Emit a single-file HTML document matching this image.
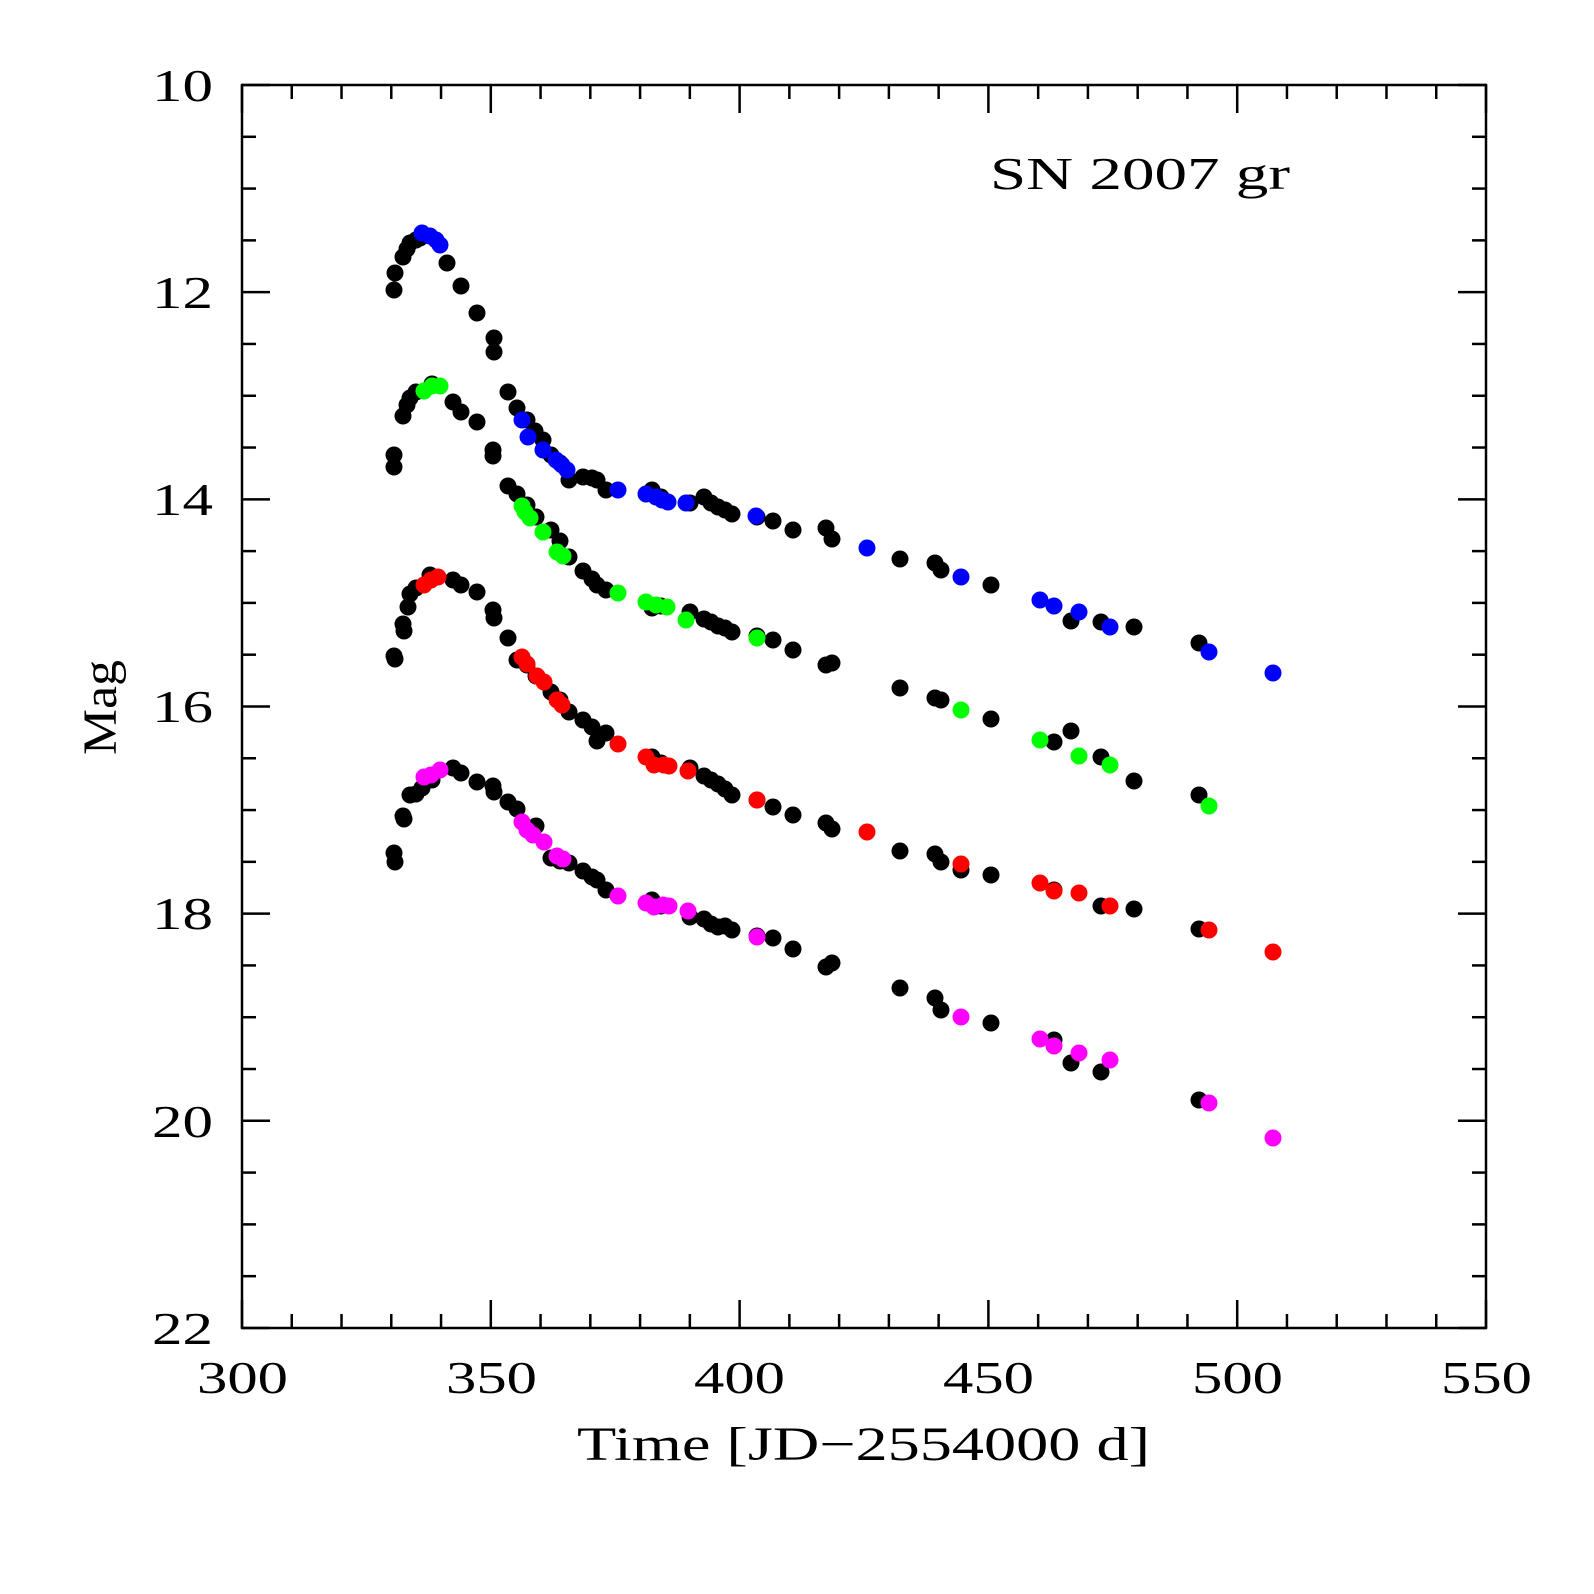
<!DOCTYPE html>
<html><head><meta charset="utf-8"><style>
html,body{margin:0;padding:0;background:#fff}
svg{display:block}
text{font-family:"Liberation Serif","DejaVu Serif",serif;fill:#000}
</style></head><body>
<svg id="s" width="1594" height="1594" viewBox="0 0 1594 1594" xmlns="http://www.w3.org/2000/svg">
<rect width="1594" height="1594" fill="#fff"/>
<g id="ticks" stroke="#000" stroke-width="2.5"></g>
<rect x="242" y="85" width="1244" height="1243" fill="none" stroke="#000" stroke-width="2.5"/>
<g font-size="46" lengthAdjust="spacingAndGlyphs">
<text x="152" y="101" textLength="61" lengthAdjust="spacingAndGlyphs">10</text>
<text x="152" y="308" textLength="61" lengthAdjust="spacingAndGlyphs">12</text>
<text x="152" y="515" textLength="61" lengthAdjust="spacingAndGlyphs">14</text>
<text x="152" y="722" textLength="61" lengthAdjust="spacingAndGlyphs">16</text>
<text x="152" y="929" textLength="61" lengthAdjust="spacingAndGlyphs">18</text>
<text x="152" y="1137" textLength="61" lengthAdjust="spacingAndGlyphs">20</text>
<text x="152" y="1344" textLength="61" lengthAdjust="spacingAndGlyphs">22</text>
</g>
<g font-size="46">
<text x="197" y="1393" textLength="91" lengthAdjust="spacingAndGlyphs">300</text>
<text x="446" y="1393" textLength="91" lengthAdjust="spacingAndGlyphs">350</text>
<text x="694" y="1393" textLength="91" lengthAdjust="spacingAndGlyphs">400</text>
<text x="943" y="1393" textLength="91" lengthAdjust="spacingAndGlyphs">450</text>
<text x="1192" y="1393" textLength="91" lengthAdjust="spacingAndGlyphs">500</text>
<text x="1441" y="1393" textLength="91" lengthAdjust="spacingAndGlyphs">550</text>
</g>
<text x="577" y="1460" font-size="48" textLength="573" lengthAdjust="spacingAndGlyphs">Time [JD−2554000 d]</text>
<text transform="translate(116,755) rotate(-90)" font-size="48" textLength="95" lengthAdjust="spacingAndGlyphs">Mag</text>
<text x="990" y="189" font-size="46" textLength="300" lengthAdjust="spacingAndGlyphs">SN 2007 gr</text>
<g id="dots"></g>
</svg>
<script>
var NS="http://www.w3.org/2000/svg";
var tg=document.getElementById("ticks");
function L(x1,y1,x2,y2){var l=document.createElementNS(NS,"line");l.setAttribute("x1",x1);l.setAttribute("y1",y1);l.setAttribute("x2",x2);l.setAttribute("y2",y2);tg.appendChild(l);}
for(var v=300;v<=550;v+=10){var x=242+(v-300)*4.976;var len=(v%50==0)?28:14;L(x,1328,x,1328-len);L(x,85,x,85+len);}
for(var m=10;m<=22;m+=0.5){var y=85+(m-10)*103.58;var len=(Math.abs(m-Math.round(m/2)*2)<1e-6)?28:14;L(242,y,242+len,y);L(1486,y,1486-len,y);}
var black=[[394,290],[395,273],[403,257],[407,249],[410,243],[416,240],[420,238],[447,263],[461,286],[477,313],[494,338],[494,352],[508,392],[517,408],[527,420],[535,431],[543,440],[551,455],[560,463],[569,480],[583,477],[592,478],[597,480],[606,490],[652,490],[661,497],[690,503],[704,497],[711,503],[718,507],[725,510],[732,514],[757,517],[773,521],[793,530],[826,528],[832,539],[900,559],[935,563],[941,570],[991,585],[1071,621],[1101,622],[1134,627],[1199,643],
[394,455],[394,467],[403,416],[407,405],[410,398],[416,392],[432,384],[453,402],[461,412],[477,422],[493,450],[493,456],[508,486],[517,494],[527,505],[536,517],[551,530],[560,541],[569,557],[583,571],[592,579],[597,585],[606,590],[652,608],[661,606],[690,612],[704,619],[711,622],[718,626],[725,628],[732,632],[757,636],[773,640],[793,650],[826,665],[832,663],[900,688],[935,698],[941,700],[991,719],[1054,742],[1071,731],[1101,757],[1134,781],[1199,795],
[394,656],[395,659],[403,624],[404,631],[408,607],[410,594],[416,588],[430,575],[453,580],[461,585],[477,592],[493,610],[494,618],[508,638],[517,660],[527,665],[536,676],[551,692],[560,700],[569,712],[583,720],[592,727],[597,741],[606,733],[652,757],[661,763],[690,768],[704,776],[711,780],[718,784],[725,789],[732,795],[757,800],[773,807],[793,815],[826,823],[832,829],[900,851],[935,854],[941,862],[961,870],[991,875],[1054,890],[1101,906],[1134,909],[1199,929],
[394,853],[395,862],[403,816],[404,819],[410,795],[416,794],[422,788],[432,780],[453,768],[461,773],[477,782],[493,786],[494,792],[508,802],[517,809],[536,826],[551,858],[560,861],[569,863],[583,871],[592,877],[597,880],[606,890],[652,900],[661,906],[690,917],[704,919],[711,924],[718,927],[725,926],[732,930],[757,936],[773,938],[793,949],[826,967],[832,963],[900,988],[935,998],[941,1010],[991,1023],[1054,1040],[1071,1063],[1101,1072],[1199,1100]];
var sets=[["#0000ff",[[422,233],[430,236],[436,240],[440,245],[522,420],[528,437],[543,450],[556,460],[562,465],[567,470],[618,490],[646,494],[656,497],[662,500],[668,502],[686,503],[756,516],[867,548],[961,577],[1040,600],[1054,606],[1079,612],[1110,627],[1209,652],[1273,673]]],
["#00ff00",[[424,391],[432,386],[440,386],[522,506],[525,512],[530,518],[543,532],[557,552],[563,556],[618,593],[646,602],[656,605],[667,607],[686,620],[757,638],[961,710],[1040,740],[1079,756],[1110,765],[1209,806]]],
["#ff0000",[[424,585],[431,580],[438,577],[522,657],[527,664],[537,676],[544,682],[557,700],[562,705],[618,744],[646,757],[654,765],[664,765],[669,766],[688,771],[757,800],[867,832],[961,864],[1040,883],[1054,891],[1079,893],[1110,906],[1209,930],[1273,952]]],
["#ff00ff",[[424,777],[431,775],[440,770],[522,822],[527,830],[533,835],[544,842],[557,856],[563,859],[618,896],[646,903],[654,907],[663,905],[669,906],[688,911],[757,937],[961,1017],[1040,1039],[1054,1046],[1079,1053],[1110,1060],[1209,1103],[1273,1138]]]];
var dg=document.getElementById("dots");
function C(p,c){var e=document.createElementNS(NS,"circle");e.setAttribute("cx",p[0]);e.setAttribute("cy",p[1]);e.setAttribute("r",8.5);e.setAttribute("fill",c);dg.appendChild(e);}
black.forEach(function(p){C(p,"#000");});
sets.forEach(function(s){s[1].forEach(function(p){C(p,s[0]);});});
</script>
</body></html>
